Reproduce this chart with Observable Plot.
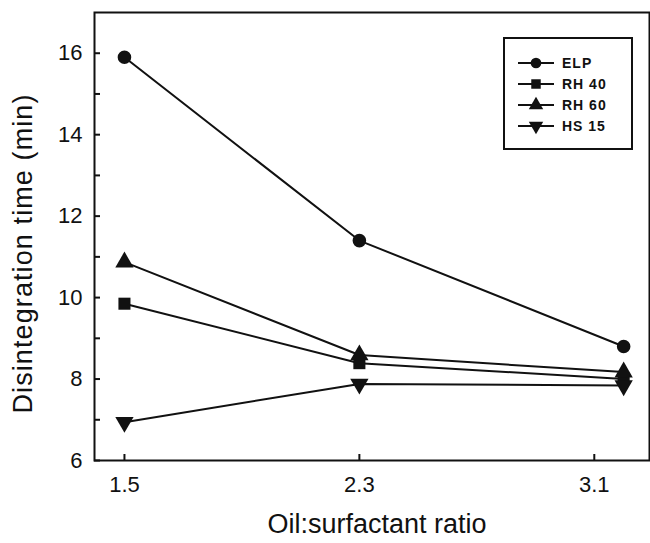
<!DOCTYPE html>
<html>
<head>
<meta charset="utf-8">
<script src="https://cdn.jsdelivr.net/npm/d3@7"></script>
<script src="https://cdn.jsdelivr.net/npm/@observablehq/plot@0.6"></script>
<style>
  html, body { margin: 0; padding: 0; background: #fff; }
  #wrap { position: relative; width: 650px; height: 543px; }
  #legend { position: absolute; left: 503px; top: 37px; width: 126px; height: 109px;
            border: 2px solid #111; background: #fff; box-sizing: content-box; }
  .row { position: absolute; left: 0; height: 20px; display: flex; align-items: center; }
  .row span { font: bold 14px "Liberation Sans", Arial, sans-serif; color: #111; margin-left: 6px; letter-spacing: 1px; }
</style>
</head>
<body>
<div id="wrap"></div>
<script>
// ---- data ----
const seriesNames = ["ELP", "RH 40", "RH 60", "HS 15"];
const ratios = [1.5, 2.3, 3.2];          // plotted x positions of the three measurements
const xTickValues = [1.5, 2.3, 3.1];     // x-axis tick labels
const elp  = [15.9, 11.4, 8.8];
const rh40 = [9.85, 8.39, 8.0];
const rh60 = [10.87, 8.59, 8.17];
const hs15 = [6.94, 7.88, 7.84];
const yMajorTicks = [6, 8, 10, 12, 14, 16];
const yMinorTicks = [7, 9, 11, 13, 15];
const xTitle = "Oil:surfactant ratio";
const yTitle = "Disintegration time (min)";

const seriesValues = [elp, rh40, rh60, hs15];
const data = seriesNames.flatMap((s, i) => ratios.map((r, j) => ({series: s, ratio: r, time: seriesValues[i][j]})));

const triangleDown = {
  draw(context, size) {
    const y = -Math.sqrt(size / (3 * Math.sqrt(3)));
    context.moveTo(0, -y * 2);
    context.lineTo(-Math.sqrt(3) * y, y);
    context.lineTo(Math.sqrt(3) * y, y);
    context.closePath();
  }
};
const symbols = [d3.symbolCircle, d3.symbolSquare, d3.symbolTriangle, triangleDown];

const font = '"Liberation Sans", Arial, sans-serif';

const chart = Plot.plot({
  width: 650,
  height: 543,
  marginLeft: 94,
  marginRight: 1,
  marginTop: 12,
  marginBottom: 83,
  style: {fontFamily: font, fontSize: "22px", color: "#111", background: "#fff"},
  x: {domain: [1.398, 3.288]},
  y: {domain: [6, 17]},
  symbol: {domain: seriesNames, range: symbols},
  marks: [
    Plot.axisX({ticks: xTickValues, tickFormat: d3.format(".1f"), tickSize: -6, tickPadding: 22,
                strokeWidth: 2, label: null, fontSize: 22}),
    Plot.axisY({ticks: yMinorTicks, tickFormat: () => "", tickSize: -6, strokeWidth: 2, label: null}),
    Plot.axisY({ticks: yMajorTicks, tickFormat: d3.format("d"), tickSize: -6, tickPadding: 18,
                strokeWidth: 2, label: null, fontSize: 22}),
    Plot.text([xTitle], {frameAnchor: "bottom", text: d => d, dy: 72, dx: 5, fontSize: 27}),
    Plot.text([yTitle], {frameAnchor: "left", textAnchor: "middle", lineAnchor: "middle", text: d => d,
                         rotate: -90, dx: -71, dy: 17, fontSize: 27}),
    Plot.line(data, {x: "ratio", y: "time", z: "series", stroke: "#111", strokeWidth: 2}),
    Plot.dot(data, {x: "ratio", y: "time", symbol: "series", fill: "#111", stroke: "none", r: 6.8}),
    Plot.frame({stroke: "#111", strokeWidth: 2})
  ]
});
chart.querySelectorAll("text").forEach(t => {
  if (t.textContent === yTitle) t.style.letterSpacing = "1.1px";
});
const wrap = document.getElementById("wrap");
wrap.appendChild(chart);

// legend
const legend = document.createElement("div");
legend.id = "legend";
seriesNames.forEach((name, i) => {
  const row = document.createElement("div");
  row.className = "row";
  row.style.top = (14 + i * 21) + "px";
  row.style.left = "11px";
  const svg = d3.create("svg").attr("width", 40).attr("height", 20);
  svg.append("line").attr("x1", 2).attr("x2", 38).attr("y1", 10).attr("y2", 10).attr("stroke", "#111").attr("stroke-width", 2);
  svg.append("path").attr("transform", "translate(20,10)").attr("d", d3.symbol(symbols[i], 90)()).attr("fill", "#111");
  row.appendChild(svg.node());
  const label = document.createElement("span");
  label.textContent = name;
  row.appendChild(label);
  legend.appendChild(row);
});
wrap.appendChild(legend);
</script>
</body>
</html>
